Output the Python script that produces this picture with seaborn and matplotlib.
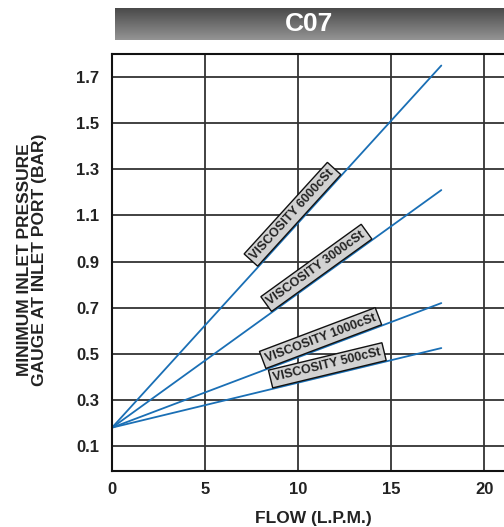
import numpy as np
import pandas as pd
import matplotlib
matplotlib.use("Agg")
import matplotlib.pyplot as plt
import seaborn as sns

# data
flow = [0.0, 17.7]
start_pressure = 0.18
end_pressure = [1.75, 1.21, 0.72, 0.525]
series_names = ["VISCOSITY 6000cSt", "VISCOSITY 3000cSt",
                "VISCOSITY 1000cSt", "VISCOSITY 500cSt"]
label_flow = [10.1, 11.3, 11.4, 11.7]
x_ticks = [0, 5, 10, 15, 20]
y_ticks = [0.1, 0.3, 0.5, 0.7, 0.9, 1.1, 1.3, 1.5, 1.7]
title = "C07"

rows = []
for name, end in zip(series_names, end_pressure):
    rows.append({"flow": flow[0], "pressure": start_pressure, "series": name})
    rows.append({"flow": flow[1], "pressure": end, "series": name})
df = pd.DataFrame(rows)

sns.set_style("white")
plt.rcParams["font.family"] = ["Liberation Sans", "DejaVu Sans"]
plt.rcParams["font.weight"] = "bold"

W, H = 504, 527
fig = plt.figure(figsize=(W / 100, H / 100), dpi=100)
ax = fig.add_axes([112 / W, 1 - 471 / H, (W - 112) / W, (471 - 54) / H])

ax.set_xlim(0, 21.07)
ax.set_ylim(-0.008, 1.8)

for v in x_ticks[1:]:
    ax.axvline(v, color="#333333", lw=1.3, zorder=0)
for v in y_ticks:
    ax.axhline(v, color="#333333", lw=1.3, zorder=0)

sns.lineplot(data=df, x="flow", y="pressure", units="series", estimator=None,
             color="#1a6fb5", lw=1.3, ax=ax, legend=False)

ax.set_xticks(x_ticks)
ax.set_yticks(y_ticks)
ax.set_xticklabels([str(t) for t in x_ticks], fontsize=12, fontweight="bold")
ax.set_yticklabels([f"{t:.1f}" for t in y_ticks], fontsize=12, fontweight="bold")
ax.tick_params(axis="both", length=0, colors="#222222")
ax.tick_params(axis="y", pad=9)
ax.tick_params(axis="x", pad=8)
ax.set_xlabel("")
ax.set_ylabel("")

for side in ["left", "bottom", "top"]:
    ax.spines[side].set_color("#111111")
    ax.spines[side].set_linewidth(1.5)
ax.spines["right"].set_visible(False)

# viscosity labels sitting on each line
for name, end, xl in zip(series_names, end_pressure, label_flow):
    slope = (end - start_pressure) / (flow[1] - flow[0])
    yl = start_pressure + slope * xl
    p0 = ax.transData.transform((flow[0], start_pressure))
    p1 = ax.transData.transform((flow[1], end))
    ang = np.degrees(np.arctan2(p1[1] - p0[1], p1[0] - p0[0]))
    d = 10
    dx = -np.sin(np.radians(ang)) * d
    dy = np.cos(np.radians(ang)) * d
    ax.annotate(name, xy=(xl, yl), xytext=(dx, dy), textcoords="offset pixels",
                rotation=ang, rotation_mode="anchor", ha="center", va="center",
                fontsize=9, fontweight="bold", color="#222222",
                bbox=dict(boxstyle="square,pad=0.25", fc="#d2d2d2", ec="#111111", lw=1))

fig.text(313 / W, 1 - 518 / H, "FLOW (L.P.M.)", ha="center", va="center",
         fontsize=12.5, fontweight="bold", color="#222222")
fig.text(32 / W, 1 - 260 / H, "MINIMUM INLET PRESSURE\nGAUGE AT INLET PORT (BAR)",
         ha="center", va="center", rotation=90, fontsize=12.5,
         fontweight="bold", color="#222222", linespacing=1.0)

# gray gradient title bar
bar = fig.add_axes([115 / W, 1 - 40 / H, (W - 115) / W, 32 / H])
grad = np.linspace(0.29, 0.58, 64).reshape(-1, 1)
bar.imshow(grad, aspect="auto", cmap="gray", vmin=0, vmax=1,
           extent=[0, 1, 0, 1], origin="upper")
bar.set_axis_off()
bar.text(0.5, 0.5, title, ha="center", va="center", color="white",
         fontsize=19, fontweight="bold", transform=bar.transAxes)

fig.savefig("out.png", dpi=100)
